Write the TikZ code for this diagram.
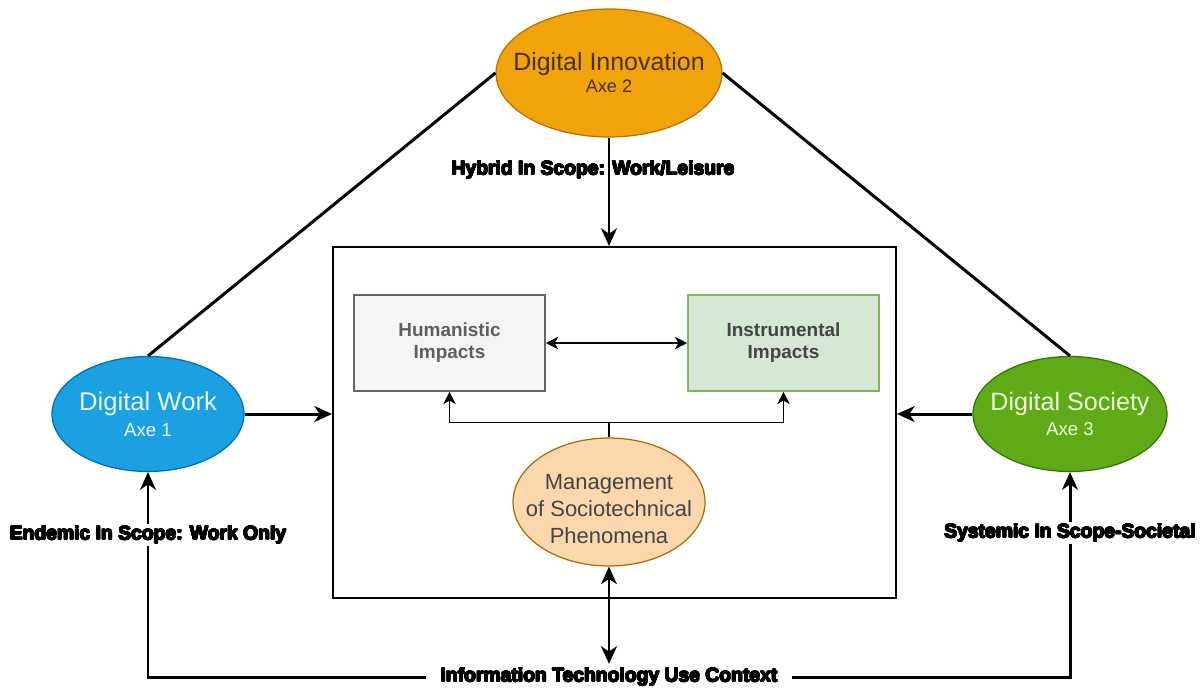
\documentclass[tikz,border=0pt]{standalone}
\usepackage{fontspec}
\setmainfont{Liberation Sans}
\usepackage[copies]{contour}
\contourlength{0.3pt}
\contournumber{16}
\usetikzlibrary{shapes.geometric,arrows.meta,calc}
\definecolor{innovfill}{HTML}{F0A30A}
\definecolor{innovline}{HTML}{BD7000}
\definecolor{innovtext}{HTML}{4A3000}
\definecolor{workfill}{HTML}{1BA1E2}
\definecolor{workline}{HTML}{006EAF}
\definecolor{worktext}{HTML}{EAF6FF}
\definecolor{socfill}{HTML}{60A917}
\definecolor{socline}{HTML}{2D7600}
\definecolor{soctext}{HTML}{EEFFDD}
\definecolor{mgmtfill}{HTML}{FAD7AC}
\definecolor{mgmtline}{HTML}{B46504}
\definecolor{mgmttext}{HTML}{444444}
\definecolor{humfill}{HTML}{F5F5F5}
\definecolor{humline}{HTML}{666666}
\definecolor{humtext}{HTML}{5E5E5E}
\definecolor{instfill}{HTML}{D5E8D4}
\definecolor{instline}{HTML}{82B366}
\definecolor{insttext}{HTML}{444444}
\newcommand{\heavytext}[1]{\contour{black}{#1}}
\begin{document}
\begin{tikzpicture}[x=0.02cm,y=-0.02cm,
  axis/.style={ellipse, inner xsep=-12pt, inner ysep=0pt, line width=0.7pt, align=center},
  impact/.style={rectangle, inner sep=0pt, line width=0.9pt, minimum width=3.82cm,
    minimum height=1.92cm, align=center, font=\fontsize{10.8}{12.5}\selectfont\bfseries},
  scopelabel/.style={font=\fontsize{11}{13}\selectfont\bfseries, inner sep=1pt},
  heavy/.style={line width=1.7pt},
  bigtip/.style={-{Stealth[length=10pt,width=9pt,inset=3pt]}},
  heavyarrow/.style={heavy, bigtip},
  smalltip/.style={-{Stealth[length=7pt,width=7pt,inset=2pt]}},
  lightarrow/.style={line width=1pt, smalltip},
]
\useasboundingbox (0,0) rectangle (1201,687);

% main frame
\node[draw, line width=1.2pt, minimum width=11.26cm, minimum height=7.02cm, inner sep=0pt] (box) at (614.5,422.5) {};

% axes
\node[axis, fill=innovfill, draw=innovline, minimum width=4.52cm, minimum height=2.56cm, text=innovtext]
  (innov) at (609,73) {\raisebox{-1.5pt}[\height][\depth]{\begin{tabular}{@{}c@{}}\fontsize{14.2}{16}\selectfont Digital Innovation\\[0.5pt]\fontsize{10.3}{12}\selectfont Axe 2\end{tabular}}};
\node[axis, fill=workfill, draw=workline, minimum width=3.84cm, minimum height=2.3cm, text=worktext]
  (work) at (148,414) {\fontsize{14.6}{16}\selectfont Digital Work\\[3pt]\fontsize{10.6}{12}\selectfont Axe 1};
\node[axis, fill=socfill, draw=socline, minimum width=3.88cm, minimum height=2.3cm, text=soctext]
  (soc) at (1070,414) {\fontsize{14.3}{16}\selectfont Digital Society\\[2pt]\fontsize{10.6}{12}\selectfont Axe 3};

% inner elements
\node[impact, fill=humfill, draw=humline, text=humtext] (hum) at (449.5,343) {Humanistic\\Impacts};
\node[impact, fill=instfill, draw=instline, text=insttext] (inst) at (783.5,343) {Instrumental\\Impacts};
\node[axis, fill=mgmtfill, draw=mgmtline, minimum width=3.84cm, minimum height=2.56cm, text=mgmttext,
  font=\fontsize{12.5}{15.4}\selectfont] (mgmt) at (609,502)
  {\raisebox{-5pt}[\height][\depth]{\begin{tabular}{@{}c@{}}Management\\of Sociotechnical\\Phenomena\end{tabular}}};

% context label
\node[scopelabel, inner xsep=8pt, inner ysep=2pt] (ctx) at (609,677) {\heavytext{Information Technology Use Context}};

% connectors
\draw[heavy] (innov.west) -- (work.north);
\draw[heavy] (innov.east) -- (soc.north);
\draw[heavyarrow] (innov.south) -- (innov.south |- box.north);
\draw[heavyarrow] (work.east) -- (work.east -| box.west);
\draw[heavyarrow] (soc.west) -- (soc.west -| box.east);
\draw[line width=1pt, {Stealth[length=7pt,width=7pt,inset=2pt]}-{Stealth[length=7pt,width=7pt,inset=2pt]}] (hum) -- (inst);
\coordinate (split) at ($(mgmt.north)+(0,-15)$);
\draw[line width=0.8pt] (mgmt.north) -- (split);
\draw[lightarrow] (split) -| (hum.south);
\draw[lightarrow] (split) -| (inst.south);
\draw[heavyarrow] (ctx.west) -| (work.south);
\draw[heavyarrow] (ctx.east) -| (soc.south);
\draw[line width=1pt, {Stealth[length=10pt,width=9pt,inset=3pt]}-] (mgmt.south) -- (mgmt.south |- box.south);
\draw[heavyarrow] (mgmt.south |- box.south) -- (ctx.north);

% scope labels
\node[scopelabel, fill=white] (endemic) at (148,535) {\heavytext{Endemic In Scope: Work Only}};
\node[scopelabel, fill=white] (systemic) at (1070,533) {\heavytext{Systemic In Scope-Societal}};
\node[scopelabel] (hybrid) at (593,170) {\heavytext{Hybrid In Scope: Work/Leisure}};
\end{tikzpicture}
\end{document}
